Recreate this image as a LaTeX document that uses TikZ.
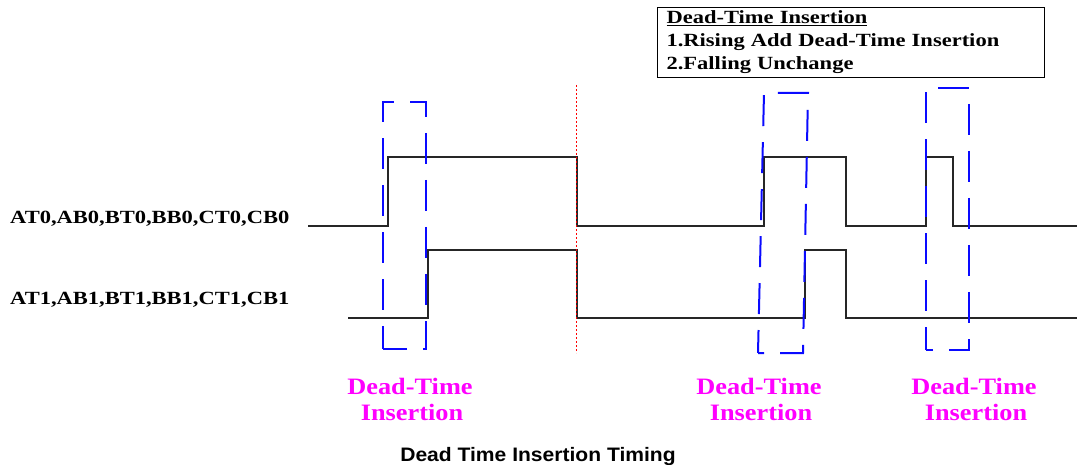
\documentclass[tikz,border=0pt]{standalone}
\usepackage{fontspec}
\newfontfamily\serifb[FakeStretch=1.21]{Liberation Serif Bold}
\newfontfamily\serifm[FakeStretch=1.12]{Liberation Serif Bold}
\newfontfamily\sansb[FakeStretch=1.08]{Liberation Sans Bold}
\definecolor{dtmag}{RGB}{255,0,255}
\definecolor{dtblue}{RGB}{10,10,255}
\tikzset{
  wave/.style={line width=1.4pt, black!85},
  dtbox/.style={dtblue, line width=2pt, dash pattern=on 31pt off 16pt},
  sig/.style={font=\serifb\fontsize{18.6}{23}\selectfont, inner sep=0pt, anchor=base west},
  dtlabel/.style={font=\serifm\fontsize{23.5}{26}\selectfont, text=dtmag, align=center, inner sep=0pt, anchor=base},
}
\begin{document}
\begin{tikzpicture}[x=1pt,y=-1pt]
\useasboundingbox (0,0) rectangle (1077,465);
% legend box
\node[draw, line width=1.2pt, anchor=north west, minimum width=387pt, minimum height=69pt,
      text width=369pt, inner xsep=9pt, align=left,
      font=\serifb\fontsize{18.6}{23}\selectfont] (legend) at (657,7)
  {\underline{Dead-Time Insertion}\\1.Rising Add Dead-Time Insertion\\2.Falling Unchange};
% signal labels
\node[sig] (l0) at (10,224) {AT0,AB0,BT0,BB0,CT0,CB0};
\node[sig] (l1) at (10,305) {AT1,AB1,BT1,BB1,CT1,CB1};
% waveforms
\draw[wave] (308,226) -- (388,226) -- (388,157) -- (577,157) -- (577,226) -- (764,226)
  -- (764,157) -- (846,157) -- (846,226) -- (926,226) -- (926,157) -- (953,157)
  -- (953,226) -- (1077,226);
\draw[wave] (348,318) -- (428,318) -- (428,250) -- (577,250) -- (577,318) -- (805,318)
  -- (805,250) -- (846,250) -- (846,318) -- (1077,318);
% red dotted line
\draw[red, line width=0.9pt, dash pattern=on 2pt off 2pt] (576,85) -- (576,353);
% blue dashed boxes
\draw[dtbox, dash phase=8pt] (383,349) -- (383,102) -- (426,102) -- (426,349) -- cycle;
\draw[dtbox, dash phase=8pt] (758,353) -- (764,93) -- (808,93) -- (803,353) -- cycle;
\draw[dtbox, dash phase=8pt] (926,350) -- (926,88) -- (969,88) -- (969,350) -- cycle;
% magenta labels
\node[dtlabel] (d1a) at (410,394) {Dead-Time};
\node[dtlabel] (d1b) at (412,420) {Insertion};
\node[dtlabel] (d2a) at (759,394) {Dead-Time};
\node[dtlabel] (d2b) at (761,420) {Insertion};
\node[dtlabel] (d3a) at (974,394) {Dead-Time};
\node[dtlabel] (d3b) at (976,420) {Insertion};
% caption
\node[font=\sansb\fontsize{19.5}{22}\selectfont, inner sep=0pt, anchor=base] (cap) at (538,461)
  {Dead Time Insertion Timing};
\end{tikzpicture}
\end{document}
